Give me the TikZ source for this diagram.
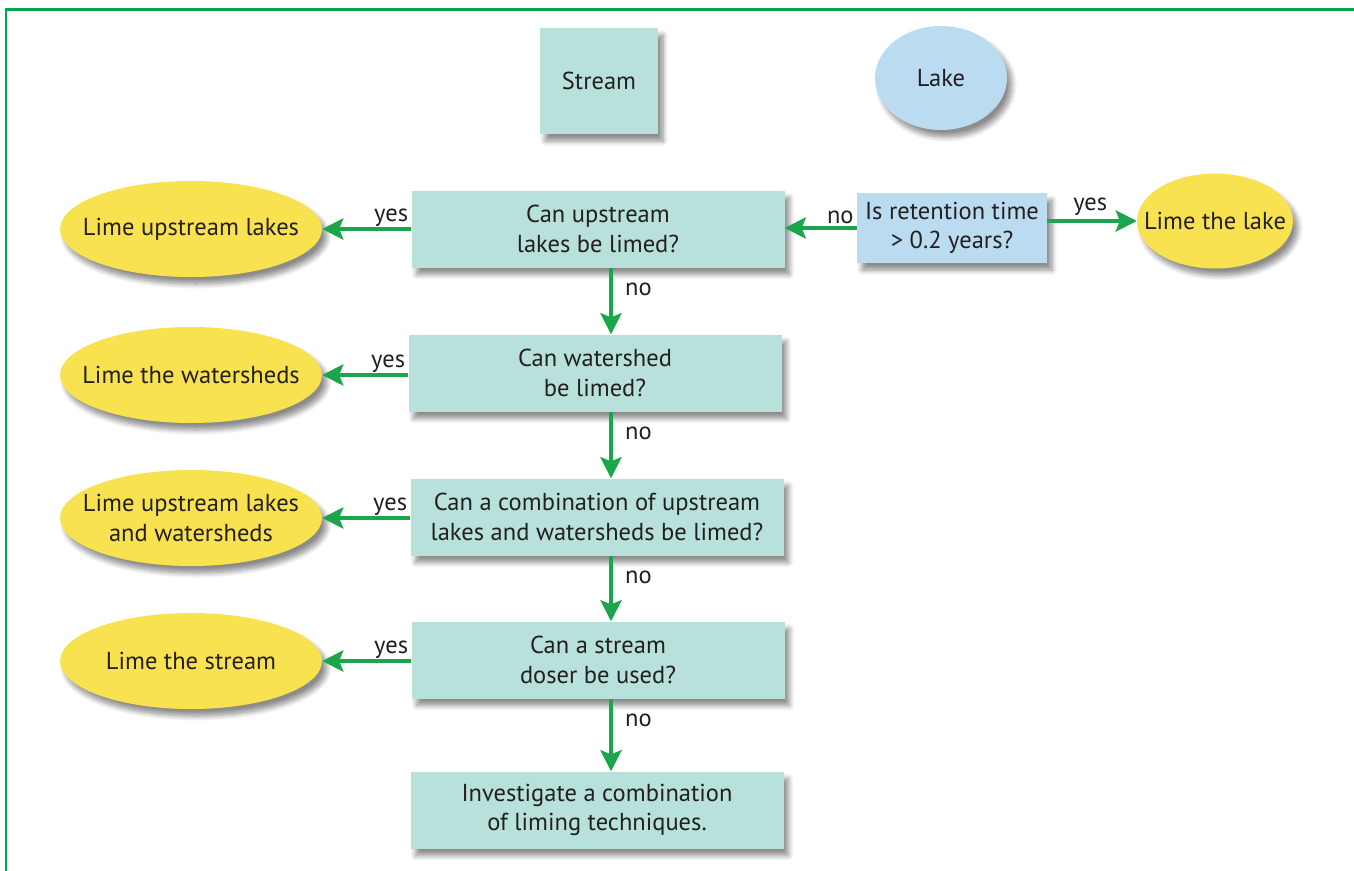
\documentclass[tikz,border=0pt]{standalone}
\usepackage{fontspec}
\setmainfont{PT Sans}
\usetikzlibrary{shapes.geometric,arrows.meta,calc,shadows.blur}
\definecolor{boxteal}{HTML}{B7E1DA}
\definecolor{boxblue}{HTML}{BBDCF0}
\definecolor{ellyellow}{HTML}{F9E24F}
\definecolor{arrgreen}{HTML}{1BA64B}
\definecolor{framegreen}{HTML}{00A650}
\definecolor{txt}{HTML}{231F20}
\tikzset{
  shad/.style={blur shadow={shadow xshift=5bp, shadow yshift=-7bp, shadow blur steps=8, shadow opacity=45, shadow blur radius=5bp}},
  mainfont/.style={font=\fontsize{24.5bp}{29.5bp}\selectfont},
  qbox/.style={rectangle, fill=boxteal, draw=none, align=center, text=txt, inner sep=0pt, minimum width=373bp, minimum height=77bp, mainfont, shad},
  rbox/.style={qbox, fill=boxblue, minimum width=190bp, minimum height=70bp},
  yell/.style={ellipse, fill=ellyellow, draw=none, inner sep=0pt, minimum width=262bp, minimum height=96bp, shad},
  ctext/.style={align=center, text=txt, inner sep=0pt, mainfont},
  arr/.style={draw=arrgreen, line width=4.7bp, -{Stealth[length=21bp, width=21bp, inset=4bp]}},
  lbl/.style={text=txt, inner sep=0pt, mainfont},
}
\begin{document}
\begin{tikzpicture}[x=1bp, y=-1bp]
\useasboundingbox (0,0) rectangle (1354,870);
% frame
\draw[framegreen, line width=2.8bp] (6,872) -- (6,9.5) -- (1356,9.5);
% top nodes
\node[qbox, minimum width=118bp, minimum height=106bp] (stream) at (599,81) {Stream};
\node[yell, fill=boxblue, minimum width=132bp, minimum height=104bp, label={[ctext]center:Lake}] (lake) at (941,78) {};
% question boxes
\coordinate (ax) at (611,0);
\node[qbox] (q1) at (598,229) {Can upstream\\lakes be limed?};
\node[qbox] (q2) at (595,373) {Can watershed\\be limed?};
\node[qbox] (q3) at (597,517) {Can a combination of upstream\\lakes and watersheds be limed?};
\node[qbox] (q4) at (598,660) {Can a stream\\doser be used?};
\node[qbox] (q5) at (597,810) {Investigate a combination\\of liming techniques.};
\node[rbox] (ret) at (952,228) {Is retention time\\> 0.2 years?};
% answers
\node[yell, label={[ctext]center:Lime upstream lakes}] (e1) at (191,229) {};
\node[yell, label={[ctext]center:Lime the watersheds}] (e2) at (191,375) {};
\node[yell, label={[ctext]center:{Lime upstream lakes\\and watersheds}}] (e3) at (191,518) {};
\node[yell, label={[ctext]center:Lime the stream}] (e4) at (191,661) {};
\node[yell, minimum width=156bp, minimum height=95bp, label={[ctext]center:Lime the lake}] (lk) at (1215,221) {};
% connectors
\draw[arr] (q1.west |- e1.east) -- (e1.east);
\draw[arr] (q2.west |- e2.east) -- (e2.east);
\draw[arr] (q3.west |- e3.east) -- (e3.east);
\draw[arr] (q4.west |- e4.east) -- (e4.east);
\draw[arr] (q1.south -| ax) -- (q2.north -| ax);
\draw[arr] (q2.south -| ax) -- (q3.north -| ax);
\draw[arr] (q3.south -| ax) -- (q4.north -| ax);
\draw[arr] (q4.south -| ax) -- (q5.north -| ax);
\draw[arr] (ret.west) -- (ret.west -| q1.east);
\draw[arr] (ret.east |- lk.west) -- (lk.west);
% labels
\node[lbl, anchor=south east] (y1) at ($(q1.west |- e1.east)+(-3,-2)$) {yes};
\node[lbl, anchor=south east] (y2) at ($(q2.west |- e2.east)+(-3,-2)$) {yes};
\node[lbl, anchor=south east] (y3) at ($(q3.west |- e3.east)+(-3,-2)$) {yes};
\node[lbl, anchor=south east] (y4) at ($(q4.west |- e4.east)+(-3,-2)$) {yes};
\node[lbl, anchor=north west] (n1) at ($(q1.south -| ax)+(14,15)$) {no};
\node[lbl, anchor=north west] (n2) at ($(q2.south -| ax)+(14,15)$) {no};
\node[lbl, anchor=north west] (n3) at ($(q3.south -| ax)+(14,15)$) {no};
\node[lbl, anchor=north west] (n4) at ($(q4.south -| ax)+(14,15)$) {no};
\node[lbl, anchor=south east] (n5) at ($(ret.west)+(-3,-4)$) {no};
\node[lbl, anchor=south] (y5) at ($(ret.east |- lk.west)+(43,-5)$) {yes};
\end{tikzpicture}
\end{document}
